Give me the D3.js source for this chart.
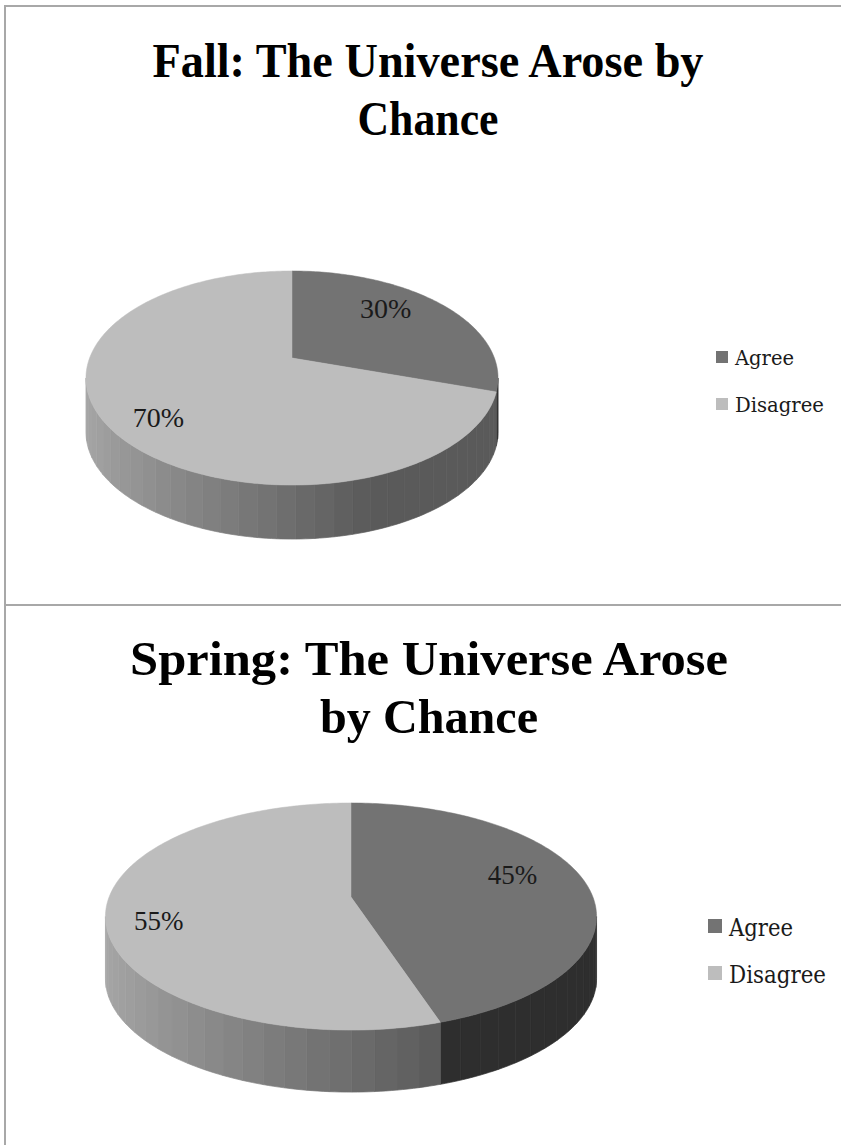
<!DOCTYPE html>
<html>
<head>
<meta charset="utf-8">
<script src="https://cdn.jsdelivr.net/npm/d3@7"></script>
<style>
  html, body { margin: 0; padding: 0; background: #ffffff; }
  svg { display: block; }
</style>
</head>
<body>
<svg id="chart" width="841" height="1145"></svg>
<script>
// ---- data ----
const categories = ["Agree", "Disagree"];
const fallValues = [30, 70];
const springValues = [45, 55];
const fallTitle = ["Fall: The Universe Arose by", "Chance"];
const springTitle = ["Spring: The Universe Arose", "by Chance"];

// ---- styles ----
const faceColor = d3.scaleOrdinal().domain(categories).range(["#737373", "#bdbdbd"]);
// grey level of the outer wall, driven by the sine of the angle (lit from the left)
const wallShade = {
  Agree: d3.scaleLinear().domain([-1, 0.31]).range([100, 46]).clamp(true),
  Disagree: d3.scaleLinear().domain([-1, 0.31]).range([168, 90]).clamp(true)
};
const borderColor = "#a8a8a8";

// layout of the two stacked chart panels
const panels = [
  {
    values: fallValues, title: fallTitle,
    titleY: [77, 135], titleW: [551, 141], titleX: 428, titleSize: 48,
    pie: { cx: 292, cy: 358, sR: 202.4, tR: 103.3, persp: 0.187, depth: 54 },
    labelSize: 28, labelK: 0.76, labelTurn: -7 * Math.PI / 180, labelDx: -9,
    legend: { x: 716, rowY: [358, 405], box: 12, textX: 735, size: 19.6, textW: [59, 89] }
  },
  {
    values: springValues, title: springTitle,
    titleY: [675, 733], titleW: [598, 218], titleX: 429, titleSize: 48,
    pie: { cx: 351, cy: 897, sR: 241.9, tR: 110.2, persp: 0.172, depth: 62 },
    labelSize: 27, labelK: 0.76, labelTurn: -7 * Math.PI / 180, labelDx: -9,
    legend: { x: 708, rowY: [927, 974], box: 14, textX: 729, size: 24, textW: [64, 97] }
  }
];

const svg = d3.select("#chart");

// panel frame lines
const frame = svg.append("g").attr("stroke", borderColor).attr("stroke-width", 2).attr("fill", "none");
frame.append("line").attr("x1", 5).attr("y1", 6).attr("x2", 841).attr("y2", 6);
frame.append("line").attr("x1", 5).attr("y1", 605).attr("x2", 841).attr("y2", 605);
frame.append("line").attr("x1", 5).attr("y1", 5).attr("x2", 5).attr("y2", 1145);

const pieGen = d3.pie().sort(null).value(d => d.value);

// perspective projection of a point on the pie's top face
function project(p, k, a) {
  const u = k * Math.sin(a), v = k * Math.cos(a);
  const w = 1 + p.persp * v;
  return [p.cx + p.sR * u / w, p.cy - p.tR * v / w];
}

panels.forEach(panel => {
  const g = svg.append("g");
  const p = panel.pie;
  const data = categories.map((c, i) => ({ category: c, value: panel.values[i] }));
  const arcs = pieGen(data);

  // title
  panel.title.forEach((line, i) => {
    g.append("text")
      .attr("x", panel.titleX).attr("y", panel.titleY[i])
      .attr("text-anchor", "middle")
      .attr("font-family", "'Liberation Serif', 'Times New Roman', serif")
      .attr("font-weight", "bold")
      .attr("font-size", panel.titleSize)
      .attr("textLength", panel.titleW[i])
      .attr("lengthAdjust", "spacingAndGlyphs")
      .attr("fill", "#000")
      .text(line);
  });

  // visible span of the outer wall (between the silhouette points)
  const aMin = Math.PI - Math.acos(p.persp);
  const aMax = 2 * Math.PI - aMin;
  const band = 4.5 * Math.PI / 180;

  const walls = [];
  arcs.forEach(d => {
    const s = Math.max(d.startAngle, aMin), e = Math.min(d.endAngle, aMax);
    if (e <= s) return;
    const n = Math.ceil((e - s) / band);
    for (let i = 0; i < n; i++) {
      const a0 = s + (e - s) * i / n, a1 = s + (e - s) * (i + 1) / n;
      walls.push({ category: d.data.category, a0, a1 });
    }
  });

  const wallPath = w => {
    const path = d3.path();
    const steps = 4;
    const pts = d3.range(steps + 1).map(j => project(p, 1, w.a0 + (w.a1 - w.a0) * j / steps));
    path.moveTo(pts[0][0], pts[0][1]);
    pts.slice(1).forEach(q => path.lineTo(q[0], q[1]));
    pts.slice().reverse().forEach(q => path.lineTo(q[0], q[1] + p.depth));
    path.closePath();
    return path.toString();
  };
  const wallColor = w => {
    const lv = Math.round(wallShade[w.category](Math.sin((w.a0 + w.a1) / 2)));
    return d3.rgb(lv, lv, lv).formatHex();
  };

  g.append("g").selectAll("path").data(walls).join("path")
    .attr("d", wallPath)
    .attr("fill", wallColor)
    .attr("stroke", wallColor)
    .attr("stroke-width", 0.7);

  // top faces
  const facePath = d => {
    const path = d3.path();
    path.moveTo(p.cx, p.cy);
    const n = Math.max(2, Math.ceil((d.endAngle - d.startAngle) / (Math.PI / 180)));
    for (let j = 0; j <= n; j++) {
      const q = project(p, 1, d.startAngle + (d.endAngle - d.startAngle) * j / n);
      path.lineTo(q[0], q[1]);
    }
    path.closePath();
    return path.toString();
  };
  g.append("g").selectAll("path").data(arcs).join("path")
    .attr("d", facePath)
    .attr("fill", d => faceColor(d.data.category))
    .attr("stroke", d => faceColor(d.data.category))
    .attr("stroke-width", 0.5);

  // percentage labels
  const total = d3.sum(panel.values);
  const fmt = d3.format(".0%");
  g.append("g").selectAll("text").data(arcs).join("text")
    .attr("transform", d => {
      const q = project(p, panel.labelK, (d.startAngle + d.endAngle) / 2 + panel.labelTurn);
      return `translate(${q[0] + panel.labelDx},${q[1]})`;
    })
    .attr("text-anchor", "middle")
    .attr("dy", "0.33em")
    .attr("font-family", "'Liberation Serif', 'Times New Roman', serif")
    .attr("font-size", panel.labelSize)
    .attr("fill", "#1a1a1a")
    .text(d => fmt(d.data.value / total));

  // legend
  const L = panel.legend;
  const rows = g.append("g").selectAll("g").data(categories).join("g")
    .attr("transform", (c, i) => `translate(0,${L.rowY[i]})`);
  rows.append("rect")
    .attr("x", L.x).attr("y", -L.box / 2 - 1)
    .attr("width", L.box).attr("height", L.box)
    .attr("fill", c => faceColor(c));
  rows.append("text")
    .attr("x", L.textX).attr("y", 0)
    .attr("dy", "0.36em")
    .attr("font-family", "'DejaVu Serif', serif")
    .attr("font-size", L.size)
    .attr("textLength", (c, i) => L.textW[i])
    .attr("lengthAdjust", "spacingAndGlyphs")
    .attr("fill", "#1a1a1a")
    .text(c => c);
});
</script>
</body>
</html>
